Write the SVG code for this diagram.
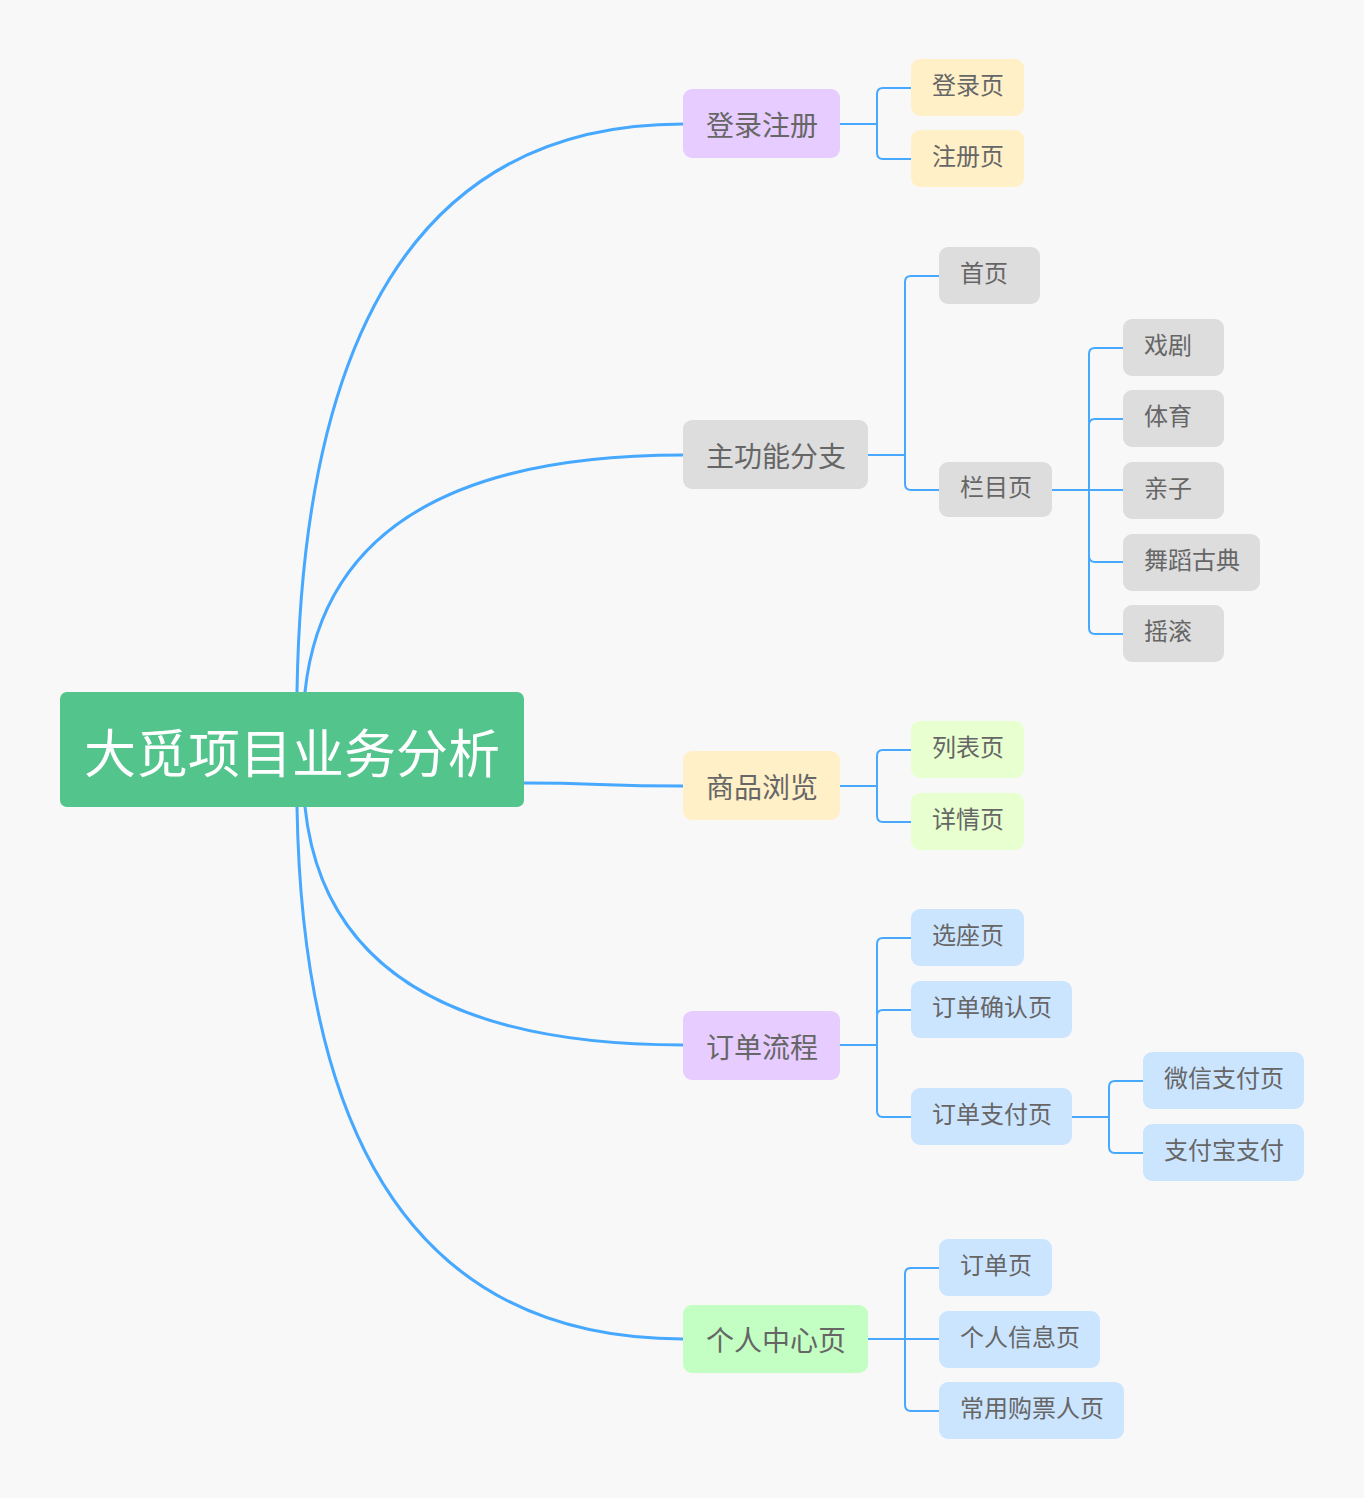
<svg xmlns="http://www.w3.org/2000/svg" width="1364" height="1498" viewBox="0 0 1364 1498">
<style>
text{font-family:"Noto Sans CJK SC","Noto Sans",sans-serif;fill:#666666;dominant-baseline:central}
.root text{fill:#ffffff;font-size:52px}
.br text{font-size:28px}
.lf text{font-size:24px}
.c1{fill:none;stroke:#47A8FF;stroke-width:3;stroke-linecap:round}
.c2{fill:none;stroke:#47A8FF;stroke-width:2}
.lav{fill:#E6CCFF}
.gry{fill:#DDDDDD}
.yel{fill:#FFF0C8}
.grn{fill:#C3FFC3}
.lim{fill:#E8FFD0}
.blu{fill:#CCE5FF}
</style>
<rect width="1364" height="1498" fill="#F8F8F8"/>
<g id="connectors">
<path class="c1" d="M297 692 Q306 124 683 124"/>
<path class="c1" d="M305 692 Q330 455 683 455"/>
<path class="c1" d="M524 783 C600 783 600 786 683 786"/>
<path class="c1" d="M305 807 Q330 1045 683 1045"/>
<path class="c1" d="M297 807 Q306 1339 683 1339"/>
<path class="c2" d="M840 124 H877"/>
<path class="c2" d="M877 124 V94 Q877 88 883 88 H911"/>
<path class="c2" d="M877 124 V153 Q877 159 883 159 H911"/>
<path class="c2" d="M868 455 H905"/>
<path class="c2" d="M905 455 V282 Q905 276 911 276 H939"/>
<path class="c2" d="M905 455 V484 Q905 490 911 490 H939"/>
<path class="c2" d="M1052 490 H1123"/>
<path class="c2" d="M1089 490 V354 Q1089 348 1095 348 H1123"/>
<path class="c2" d="M1089 490 V425 Q1089 419 1095 419 H1123"/>
<path class="c2" d="M1089 490 V556 Q1089 562 1095 562 H1123"/>
<path class="c2" d="M1089 490 V628 Q1089 634 1095 634 H1123"/>
<path class="c2" d="M840 786 H877"/>
<path class="c2" d="M877 786 V756 Q877 750 883 750 H911"/>
<path class="c2" d="M877 786 V816 Q877 822 883 822 H911"/>
<path class="c2" d="M840 1045 H877"/>
<path class="c2" d="M877 1045 V944 Q877 938 883 938 H911"/>
<path class="c2" d="M877 1045 V1016 Q877 1010 883 1010 H911"/>
<path class="c2" d="M877 1045 V1111 Q877 1117 883 1117 H911"/>
<path class="c2" d="M1072 1117 H1109"/>
<path class="c2" d="M1109 1117 V1087 Q1109 1081 1115 1081 H1143"/>
<path class="c2" d="M1109 1117 V1147 Q1109 1153 1115 1153 H1143"/>
<path class="c2" d="M868 1339 H905"/>
<path class="c2" d="M905 1339 V1274 Q905 1268 911 1268 H939"/>
<path class="c2" d="M905 1339 H939"/>
<path class="c2" d="M905 1339 V1405 Q905 1411 911 1411 H939"/>
</g>
<g id="root" class="root"><rect x="60" y="692" width="464" height="115" rx="7" fill="#52C48C"/><text x="84" y="750">大觅项目业务分析</text></g>
<g id="b1" class="br"><rect class="lav" x="683" y="89" width="157" height="69" rx="9"/><text x="706" y="124">登录注册</text></g>
<g id="b2" class="br"><rect class="gry" x="683" y="420" width="185" height="69" rx="9"/><text x="706" y="455">主功能分支</text></g>
<g id="b3" class="br"><rect class="yel" x="683" y="751" width="157" height="69" rx="9"/><text x="706" y="786">商品浏览</text></g>
<g id="b4" class="br"><rect class="lav" x="683" y="1011" width="157" height="69" rx="9"/><text x="706" y="1046">订单流程</text></g>
<g id="b5" class="br"><rect class="grn" x="683" y="1305" width="185" height="68" rx="9"/><text x="706" y="1339">个人中心页</text></g>
<g id="l1" class="lf"><rect class="yel" x="911" y="59" width="113" height="57" rx="9"/><text x="932" y="83">登录页</text></g>
<g id="l2" class="lf"><rect class="yel" x="911" y="130" width="113" height="57" rx="9"/><text x="932" y="154">注册页</text></g>
<g id="l3" class="lf"><rect class="gry" x="939" y="247" width="101" height="57" rx="9"/><text x="960" y="271">首页</text></g>
<g id="l4" class="lf"><rect class="gry" x="939" y="462" width="113" height="55" rx="9"/><text x="960" y="485">栏目页</text></g>
<g id="l5" class="lf"><rect class="gry" x="1123" y="319" width="101" height="57" rx="9"/><text x="1144" y="343">戏剧</text></g>
<g id="l6" class="lf"><rect class="gry" x="1123" y="390" width="101" height="57" rx="9"/><text x="1144" y="414">体育</text></g>
<g id="l7" class="lf"><rect class="gry" x="1123" y="462" width="101" height="57" rx="9"/><text x="1144" y="486">亲子</text></g>
<g id="l8" class="lf"><rect class="gry" x="1123" y="534" width="137" height="57" rx="9"/><text x="1144" y="558">舞蹈古典</text></g>
<g id="l9" class="lf"><rect class="gry" x="1123" y="605" width="101" height="57" rx="9"/><text x="1144" y="629">摇滚</text></g>
<g id="l10" class="lf"><rect class="lim" x="911" y="721" width="113" height="57" rx="9"/><text x="932" y="745">列表页</text></g>
<g id="l11" class="lf"><rect class="lim" x="911" y="793" width="113" height="57" rx="9"/><text x="932" y="817">详情页</text></g>
<g id="l12" class="lf"><rect class="blu" x="911" y="909" width="113" height="57" rx="9"/><text x="932" y="933">选座页</text></g>
<g id="l13" class="lf"><rect class="blu" x="911" y="981" width="161" height="57" rx="9"/><text x="932" y="1005">订单确认页</text></g>
<g id="l14" class="lf"><rect class="blu" x="911" y="1088" width="161" height="57" rx="9"/><text x="932" y="1112">订单支付页</text></g>
<g id="l15" class="lf"><rect class="blu" x="1143" y="1052" width="161" height="57" rx="9"/><text x="1164" y="1076">微信支付页</text></g>
<g id="l16" class="lf"><rect class="blu" x="1143" y="1124" width="161" height="57" rx="9"/><text x="1164" y="1148">支付宝支付</text></g>
<g id="l17" class="lf"><rect class="blu" x="939" y="1239" width="113" height="57" rx="9"/><text x="960" y="1263">订单页</text></g>
<g id="l18" class="lf"><rect class="blu" x="939" y="1311" width="161" height="57" rx="9"/><text x="960" y="1335">个人信息页</text></g>
<g id="l19" class="lf"><rect class="blu" x="939" y="1382" width="185" height="57" rx="9"/><text x="960" y="1406">常用购票人页</text></g>
</svg>
